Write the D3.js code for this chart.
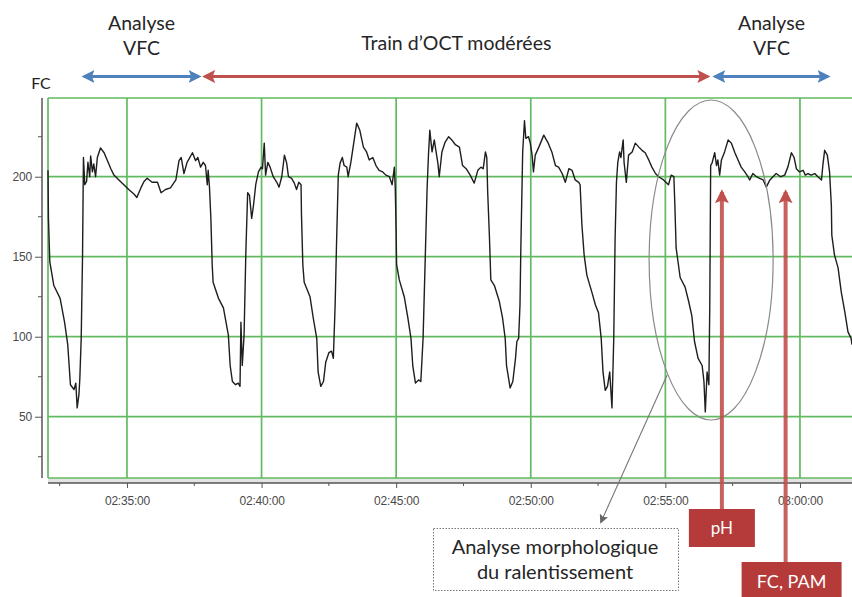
<!DOCTYPE html>
<html>
<head>
<meta charset="utf-8">
<script src="https://cdn.jsdelivr.net/npm/d3@7/dist/d3.min.js"></script>
<style>
  body { margin: 0; background: #fff; }
  svg { display: block; }
</style>
</head>
<body>
<script>
var w = 852, h = 597;
var plot = { left: 48, right: 852, top: 98, bottom: 478 };

// FC trace: [seconds after 02:30:00, bpm]
var fcTrace = [
  [124,204],[125,174],[128,147],[137,132],[151,124],[161,109],[168,95],[174,70],[182,67],[186,71],
  [189,55.5],[193,64],[195,74],[198,99],[201,151],[203,212],[206,195],[210,197],[213,209],[217,200],
  [219,213],[223,203],[226,208],[230,200],[234,212],[241,218],[249,215],[258,209],[264,205],[271,201],
  [282,198],[293,195],[304,192],[316,189],[322,187],[331,193],[338,197],[345,199],[356,196.5],[368,196.5],
  [376,190],[386,192],[397,193],[409,198],[416,210],[421,212],[427,202],[434,209],[446,215],[453,210],
  [458,212],[464,206],[470,209],[475,207],[479,195],[481,204],[484,193],[487,174],[490,145],[492,134],
  [504,124],[515,118],[526,101],[530,82],[535,72],[542,70],[548,71],[552,69],[554,109],[557,82],
  [561,101],[565,153],[569,190],[573,188.5],[578,174],[582,182],[587,195],[593,203],[599,206],[602,205],
  [606,221],[609,201],[614,209],[619,206],[626,200],[634,196.5],[639,193.5],[645,200],[651,213.5],[656,208.5],
  [660,200],[667,199],[673,196],[678,192],[683,196.5],[688,195],[689,176],[692,145],[695,134],[708,125],
  [715,112],[723,99],[726,78],[732,69],[738,72],[743,84],[750,90],[756,91],[760,86.5],[764,120],
  [767,157],[771,201],[775,208.5],[780,212],[784,207],[790,206],[793,200],[799,209],[807,224],[812,233.5],
  [819,229],[827,218.5],[834,215.5],[840,210.5],[848,212],[855,207],[862,204],[870,203],[877,201],[885,200],
  [891,195],[896,206],[898,193],[900,165],[901,145],[907,135.5],[918,125],[926,112],[933,99],[937,82],
  [943,71],[950,73],[955,72],[960,99],[965,151],[969,193],[972,213.5],[975,229],[980,215.5],[985,223],
  [989,215.5],[993,208.5],[996,200],[1002,215.5],[1009,221.5],[1017,225],[1024,223],[1032,220],[1041,218.5],[1048,207],
  [1056,205],[1065,201],[1074,196],[1082,204],[1089,206],[1094,205],[1099,215.5],[1102,212],[1104,190.5],[1108,161.5],
  [1111,135.5],[1119,132],[1130,122],[1137,112],[1143,99],[1146,82],[1154,68],[1160,72],[1166,86.5],[1169,97],
  [1173,99],[1176,120],[1178,157],[1182,215.5],[1186,235],[1189,224],[1195,225],[1199,221],[1203,213.5],[1206,203],
  [1210,213.5],[1218,218.5],[1229,226],[1238,221.5],[1247,215.5],[1255,207],[1262,206],[1270,202],[1277,196.5],[1285,205],
  [1292,204],[1299,198],[1307,196.5],[1310,195],[1314,170],[1319,151],[1325,138.5],[1336,128],[1344,120],[1351,115],
  [1357,99],[1361,78],[1366,66.5],[1371,69],[1376,78],[1381,55.5],[1385,99],[1388,161.5],[1391,196.5],[1394,209],
  [1398,215.5],[1401,212],[1406,223],[1408,209],[1413,196.5],[1418,213.5],[1426,215.5],[1433,221],[1441,218.5],[1448,216.5],
  [1455,215],[1463,210.5],[1470,206],[1478,202],[1485,200],[1496,198],[1507,195],[1513,201],[1519,200],[1521,184],
  [1524,155.5],[1533,137],[1544,131],[1552,122],[1559,113],[1565,97],[1573,86.5],[1582,82],[1586,72],[1589,53],
  [1593,78],[1597,70],[1599,120],[1601,207],[1604,208.5],[1610,215],[1614,207],[1617,210.5],[1621,201],[1625,210.5],
  [1632,215.5],[1640,223],[1647,221],[1655,215],[1662,210.5],[1669,206],[1677,203],[1684,200],[1688,198],[1695,202],
  [1703,200],[1710,199],[1718,198],[1725,193.5],[1733,198],[1740,200],[1747,202],[1757,200],[1766,201],[1773,206],
  [1781,215],[1787,212],[1792,205],[1799,203],[1807,204],[1812,201],[1818,202],[1825,201],[1833,202],[1840,200],
  [1848,198],[1851,207],[1855,216.5],[1861,213.5],[1866,203],[1870,182],[1871,163.5],[1877,151],[1885,143],[1892,128],
  [1900,115.5],[1907,103],[1914,99],[1916,95]
];

var timeDomain = [124, 1916];
var fcDomain = [11.7, 249.2];
var yTicks = [50, 100, 150, 200];
var yMinor = [25, 75, 125, 175, 225];
var xTicks = [300, 600, 900, 1200, 1500, 1800];
var xMinor = [150, 450, 750, 1050, 1350, 1650];

// phases above the chart
var phaseLabels = [['Analyse', 'VFC'], ['Train d\u2019OCT modérées'], ['Analyse', 'VFC']];
var phaseStart = [200, 469, 1606];
var phaseEnd = [465, 1599, 1867];
var phaseColor = ['#4f81bd', '#c0504d', '#4f81bd'];

// sampling markers
var markerLabels = ['pH', 'FC, PAM'];
var markerTime = [1626, 1768];

var t0 = new Date(2000, 0, 1, 2, 30, 0);
function toDate(s) { return new Date(t0.getTime() + s * 1000); }

var svg = d3.select('body').append('svg').attr('width', w).attr('height', h);

var x = d3.scaleTime()
  .domain(timeDomain.map(toDate))
  .range([plot.left, plot.right]);
var y = d3.scaleLinear()
  .domain(fcDomain)
  .range([plot.bottom, plot.top]);

var defs = svg.append('defs');
function marker(id, color, size) {
  defs.append('marker')
    .attr('id', id)
    .attr('viewBox', '0 0 10 10')
    .attr('refX', 8).attr('refY', 5)
    .attr('markerWidth', size).attr('markerHeight', size)
    .attr('markerUnits', 'userSpaceOnUse')
    .attr('orient', 'auto-start-reverse')
    .append('path')
    .attr('d', 'M0,0 L10,5 L0,10 L2,5 Z')
    .style('fill', color);
}
marker('head-blue', '#4f81bd', 13);
marker('head-red', '#c0504d', 13);
marker('head-grey', '#666', 9);
marker('head-up', '#c0504d', 14);

// light band between plot and x axis
svg.append('rect')
  .attr('x', plot.left).attr('y', plot.bottom)
  .attr('width', plot.right - plot.left).attr('height', 5)
  .style('fill', '#e4e4e4');

// grid
var grid = svg.append('g').style('stroke', '#62ba62').style('stroke-width', 1.7);
grid.selectAll('line.h')
  .data(yTicks.concat([fcDomain[1]]))
  .enter().append('line')
  .attr('x1', plot.left).attr('x2', plot.right)
  .attr('y1', function (d) { return y(d); })
  .attr('y2', function (d) { return y(d); });
grid.append('line')
  .attr('x1', plot.left).attr('x2', plot.right)
  .attr('y1', plot.bottom).attr('y2', plot.bottom);
grid.selectAll('line.v')
  .data(xTicks)
  .enter().append('line')
  .attr('x1', function (d) { return x(toDate(d)); })
  .attr('x2', function (d) { return x(toDate(d)); })
  .attr('y1', plot.top).attr('y2', plot.bottom);
grid.append('line')
  .attr('x1', plot.left).attr('x2', plot.left)
  .attr('y1', plot.top).attr('y2', plot.bottom);

// y axis
var yAxis = svg.append('g')
  .attr('transform', 'translate(42,0)')
  .call(d3.axisLeft(y).tickValues(yTicks).tickSize(7).tickPadding(3));
yAxis.selectAll('line.minor')
  .data(yMinor)
  .enter().append('line')
  .attr('class', 'minor')
  .attr('x1', -4).attr('x2', 0)
  .attr('y1', function (d) { return y(d); })
  .attr('y2', function (d) { return y(d); });

// x axis
var xAxis = svg.append('g')
  .attr('transform', 'translate(0,483)')
  .call(d3.axisBottom(x)
    .tickValues(xTicks.map(toDate))
    .tickFormat(d3.timeFormat('%H:%M:%S'))
    .tickSize(5).tickPadding(8));
xAxis.selectAll('line.minor')
  .data(xMinor)
  .enter().append('line')
  .attr('class', 'minor')
  .attr('x1', function (d) { return x(toDate(d)); })
  .attr('x2', function (d) { return x(toDate(d)); })
  .attr('y1', 0).attr('y2', 3);

[xAxis, yAxis].forEach(function (a) {
  a.select('.domain').style('stroke', '#555').style('stroke-width', 1.5);
  a.selectAll('line').style('stroke', '#555');
  a.selectAll('text')
    .style('font-family', 'Liberation Sans, Arial, sans-serif')
    .style('font-size', '12px')
    .style('letter-spacing', '-0.2px')
    .style('fill', '#4a4a4a');
});
yAxis.select('.domain').attr('d', 'M0,' + plot.top + 'V' + plot.bottom);
xAxis.select('.domain').attr('d', 'M' + plot.left + ',0H' + plot.right);

// FC label
svg.append('text')
  .text('FC')
  .attr('x', 41).attr('y', 89)
  .attr('text-anchor', 'middle')
  .style('font-family', 'Lato, sans-serif')
  .style('font-size', '16px')
  .style('fill', '#222');

// trace
var line = d3.line()
  .x(function (d) { return x(toDate(d[0])); })
  .y(function (d) { return y(d[1]); });
svg.append('path')
  .datum(fcTrace)
  .attr('d', line)
  .style('fill', 'none')
  .style('stroke', '#1e1e1e')
  .style('stroke-width', 1.4)
  .style('stroke-linejoin', 'round');

// phase arrows and labels
var textFont = 'Lato, "Open Sans", sans-serif';
phaseLabels.forEach(function (lab, i) {
  var x1 = x(toDate(phaseStart[i])), x2 = x(toDate(phaseEnd[i]));
  var id = phaseColor[i] === '#4f81bd' ? 'head-blue' : 'head-red';
  svg.append('line')
    .attr('x1', x1 + 2).attr('x2', x2 - 2)
    .attr('y1', 76.5).attr('y2', 76.5)
    .attr('marker-start', 'url(#' + id + ')')
    .attr('marker-end', 'url(#' + id + ')')
    .style('stroke', phaseColor[i])
    .style('stroke-width', 3);
  var cx = (x1 + x2) / 2;
  var baseY = lab.length === 2 ? 30 : 50;
  lab.forEach(function (s, j) {
    svg.append('text')
      .text(s)
      .attr('x', cx).attr('y', baseY + j * 25)
      .attr('text-anchor', 'middle')
      .style('font-family', textFont)
      .style('font-size', '19.5px')
      .style('fill', '#262626');
  });
});

// ellipse around the last deceleration
var ex = x(toDate(1602));
svg.append('ellipse')
  .attr('cx', ex).attr('cy', 260)
  .attr('rx', 62).attr('ry', 160)
  .style('fill', 'none')
  .style('stroke', '#8a8a8a')
  .style('stroke-width', 1.2);

svg.append('line')
  .attr('x1', x(toDate(1504))).attr('y1', 375)
  .attr('x2', 601).attr('y2', 522)
  .attr('marker-end', 'url(#head-grey)')
  .style('stroke', '#777')
  .style('stroke-width', 1.1);

// note box
svg.append('rect')
  .attr('x', 433.5).attr('y', 528.5)
  .attr('width', 245).attr('height', 62)
  .style('fill', '#fff')
  .style('stroke', '#777')
  .style('stroke-dasharray', '1.5,1.5')
  .style('stroke-width', 1);
['Analyse morphologique', 'du ralentissement'].forEach(function (s, j) {
  svg.append('text')
    .text(s)
    .attr('x', 555).attr('y', 553.5 + j * 25)
    .attr('text-anchor', 'middle')
    .style('font-family', textFont)
    .style('font-size', '20px')
    .style('fill', '#262626');
});

// sampling arrows and boxes
var boxTop = [509, 562];
var boxW = [66, 100];
var boxH = [38, 40];
var boxSize = ['17px', '18px'];
markerLabels.forEach(function (lab, i) {
  var mx = x(toDate(markerTime[i]));
  svg.append('line')
    .attr('x1', mx).attr('x2', mx)
    .attr('y1', boxTop[i]).attr('y2', 192)
    .attr('marker-end', 'url(#head-up)')
    .style('stroke', '#c0504d')
    .style('stroke-opacity', 0.9)
    .style('stroke-width', 4);
  svg.append('rect')
    .attr('x', mx - boxW[i] / 2 + (i === 1 ? 6 : 0)).attr('y', boxTop[i])
    .attr('width', boxW[i]).attr('height', boxH[i])
    .style('fill', '#b53a3a');
  svg.append('text')
    .text(lab)
    .attr('x', mx + (i === 1 ? 6 : 0)).attr('y', boxTop[i] + boxH[i] / 2 + 6)
    .attr('text-anchor', 'middle')
    .style('font-family', textFont)
    .style('font-size', boxSize[i])
    .style('fill', '#fff');
});
</script>
</body>
</html>
